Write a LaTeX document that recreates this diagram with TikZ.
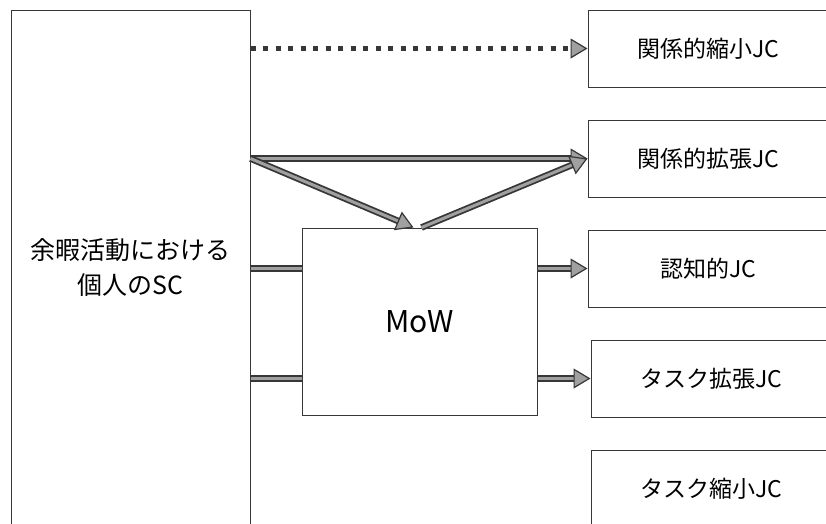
\documentclass[tikz,border=0pt]{standalone}
\usepackage{fontspec}
\setmainfont{Noto Sans CJK JP}
\usetikzlibrary{arrows.meta,positioning,calc}
\definecolor{ink}{RGB}{55,55,55}
\definecolor{shade}{RGB}{160,160,160}
\tikzset{
  blk/.style={draw=ink,line width=1pt,fill=white,inner sep=0pt,align=center},
  jc/.style={blk,minimum width=240pt,minimum height=77pt,
    font=\fontsize{23}{27}\selectfont},
  dbl/.style={draw=ink,line width=1.8pt,double=shade,double distance=3pt},
  dar/.style={dbl,-{Triangle[length=17pt,width=20pt,fill=shade,line width=1.2pt]}},
  dotar/.style={draw=ink,line width=5pt,dash pattern=on 5pt off 7.5pt,
    -{Triangle[length=17pt,width=20pt,fill=shade,line width=1.2pt]}},
}
\begin{document}
\begin{tikzpicture}[x=1pt,y=-1pt,node distance=32pt]
  \useasboundingbox (0,0) rectangle (826,523);
  \node[blk,minimum width=239pt,minimum height=516pt,
    font=\fontsize{25}{35}\selectfont] (sc) at (130.5,268) {余暇活動における\\個人のSC};
  \node[blk,minimum width=235pt,minimum height=187pt,
    font=\fontsize{30}{34}\selectfont] (mow) at (419.5,321.5) {MoW};
  \node[jc] (jc1) at (708,48.5) {関係的縮小JC};
  \node[jc,below=of jc1] (jc2) {関係的拡張JC};
  \node[jc,below=of jc2] (jc3) {認知的JC};
  \node[jc,below=of jc3,xshift=3pt] (jc4) {タスク拡張JC};
  \node[jc,below=of jc4] (jc5) {タスク縮小JC};
  \draw[dotar] (sc.east |- jc1.west) -- (jc1.west);
  \draw[dar] (sc.east |- jc2.west) -- (jc2.west);
  \draw[dar] (sc.east |- jc2.west) -- ($(mow.north)+(-6,0)$);
  \draw[dar] ($(mow.north)+(2,0)$) -- (jc2.west);
  \draw[dbl] (sc.east |- jc3.west) -- (mow.west |- jc3.west);
  \draw[dbl] (sc.east |- jc4.west) -- (mow.west |- jc4.west);
  \draw[dar] (mow.east |- jc3.west) -- (jc3.west);
  \draw[dar] (mow.east |- jc4.west) -- (jc4.west);
\end{tikzpicture}
\end{document}
